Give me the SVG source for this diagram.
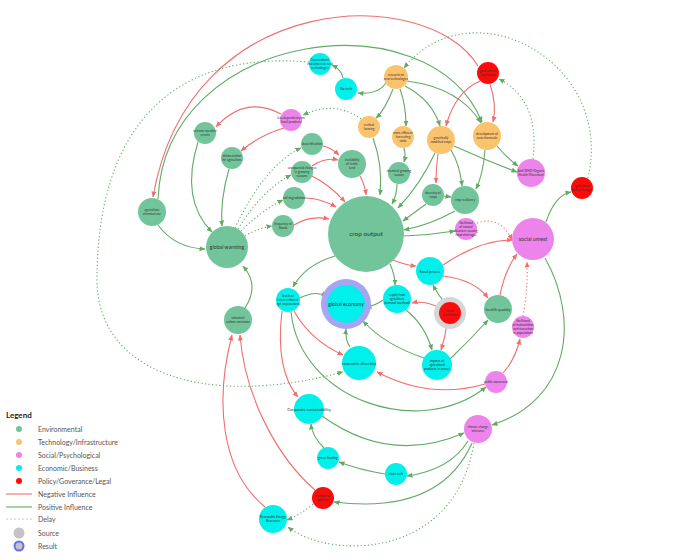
<svg xmlns="http://www.w3.org/2000/svg" width="700" height="560" viewBox="0 0 700 560">
<style>
.env{fill:#72c59b}.tech{fill:#fcc36f}.soc{fill:#ec84ec}.eco{fill:#00f0ec}.pol{fill:#ff0a0a}
text{font-family:Lato,"Open Sans","Liberation Sans",sans-serif;fill:#333;text-anchor:middle}
.t{font-size:3.2px}.m{font-size:4.2px}.b{font-size:5.2px}
.lg{font-size:7px;fill:#555;text-anchor:start}
.neg{fill:none;stroke:#ef6f6f;stroke-width:1.1}
.pos{fill:none;stroke:#62aa66;stroke-width:1.1}
.dot{stroke-dasharray:1.2 2.4}
</style>
<defs>
<marker id="ar" markerUnits="userSpaceOnUse" markerWidth="6" markerHeight="6" refX="5.5" refY="3" orient="auto"><path d="M0,0.5 L6,3 L0,5.5 z" fill="#ef6f6f"/></marker>
<marker id="ag" markerUnits="userSpaceOnUse" markerWidth="6" markerHeight="6" refX="5.5" refY="3" orient="auto"><path d="M0,0.5 L6,3 L0,5.5 z" fill="#62aa66"/></marker>
</defs>
<rect width="700" height="560" fill="#ffffff"/>
<g id="connectors">
<path class="neg" marker-end="url(#ar)" d="M478,66 C430,-15 190,-15 153,197"/>
<path class="pos" marker-end="url(#ag)" d="M158,199 C165,30 430,-5 482,122"/>
<path class="pos dot" marker-end="url(#ag)" d="M533,159 Q540,100 499,79"/>
<path class="pos dot" marker-end="url(#ag)" d="M588,178 C615,60 470,-15 404,68"/>
<path class="pos dot" marker-end="url(#ag)" d="M309,62 C170,50 97,130 97,280 C97,370 200,410 343,372"/>
<path class="pos dot" marker-end="url(#ag)" d="M474,443 C455,560 330,560 288,527"/>
<path class="pos dot" marker-end="url(#ag)" d="M313,504 Q300,515 287,520"/>
<path class="pos" marker-end="url(#ag)" d="M545,258 C580,320 570,400 492,425"/>
<path class="pos" marker-end="url(#ag)" d="M546,222 Q555,195 571,192"/>
<path class="pos" marker-end="url(#ag)" d="M468,441 Q450,470 407,476"/>
<path class="pos" marker-end="url(#ag)" d="M472,443 Q440,515 334,502"/>
<path class="pos" marker-end="url(#ag)" d="M385,474 Q360,470 339,462"/>
<path class="pos" marker-end="url(#ag)" d="M324,448 Q312,436 311,424"/>
<path class="pos" marker-end="url(#ag)" d="M322,416 Q390,465 464,433"/>
<path class="neg" marker-end="url(#ar)" d="M265,507 C220,470 215,400 232,335"/>
<path class="neg" marker-end="url(#ar)" d="M315,490 C280,460 245,400 240,335"/>
<path class="pos" marker-end="url(#ag)" d="M300,298 Q315,290 327,296"/>
<path class="pos" marker-end="url(#ag)" d="M383,300 Q375,306 366,307"/>
<path class="pos" marker-end="url(#ag)" d="M350,347 Q345,340 346,329"/>
<path class="pos" marker-end="url(#ag)" d="M424,358 Q385,345 363,321"/>
<path class="neg" marker-end="url(#ar)" d="M294,311 Q310,340 343,355"/>
<path class="neg" marker-end="url(#ar)" d="M282,311 Q275,370 298,397"/>
<path class="pos" marker-end="url(#ag)" d="M291,312 C300,400 420,440 486,387"/>
<path class="neg" marker-end="url(#ar)" d="M440,308 Q425,300 412,303"/>
<path class="neg" marker-end="url(#ar)" d="M447,324 Q445,338 441,350"/>
<path class="pos" marker-end="url(#ag)" d="M445,303 Q438,295 433,285"/>
<path class="pos" marker-end="url(#ag)" d="M450,359 Q470,340 488,320"/>
<path class="pos" marker-end="url(#ag)" d="M406,310 Q425,325 432,350"/>
<path class="neg" marker-end="url(#ar)" d="M485,384 Q430,400 377,372"/>
<path class="neg" marker-end="url(#ar)" d="M503,373 Q515,360 520,339"/>
<path class="neg dot" marker-end="url(#ar)" d="M523,316 Q528,290 527,262"/>
<path class="neg" marker-end="url(#ar)" d="M500,295 Q505,270 517,254"/>
<path class="neg" marker-end="url(#ar)" d="M443,265 Q480,240 512,240"/>
<path class="neg" marker-end="url(#ar)" d="M443,276 Q475,280 488,298"/>
<path class="neg" marker-end="url(#ar)" d="M393,260 Q405,265 416,266"/>
<path class="pos" marker-end="url(#ag)" d="M404,236 Q430,235 455,231"/>
<path class="pos" marker-end="url(#ag)" d="M455,211 Q430,225 404,230"/>
<path class="pos" marker-end="url(#ag)" d="M426,204 Q415,212 403,221"/>
<path class="pos" marker-end="url(#ag)" d="M444,196 L451,197"/>
<path class="neg dot" marker-end="url(#ar)" d="M477,223 Q500,215 512,240"/>
<path class="pos" marker-end="url(#ag)" d="M390,264 Q395,275 395,285"/>
<path class="pos" marker-end="url(#ag)" d="M335,256 Q305,265 293,287"/>
<path class="pos dot" marker-end="url(#ag)" d="M235,228 Q265,165 301,148"/>
<path class="pos dot" marker-end="url(#ag)" d="M238,229 Q262,190 291,175"/>
<path class="pos dot" marker-end="url(#ag)" d="M241,231 Q262,210 283,200"/>
<path class="pos dot" marker-end="url(#ag)" d="M245,236 Q258,228 272,226"/>
<path class="pos dot" marker-end="url(#ag)" d="M361,119 Q335,100 303,115"/>
<path class="neg" marker-end="url(#ar)" d="M281,114 Q245,95 216,127"/>
<path class="neg" marker-end="url(#ar)" d="M284,128 Q260,135 241,151"/>
<path class="pos" marker-end="url(#ag)" d="M198,142 Q180,200 212,232"/>
<path class="pos" marker-end="url(#ag)" d="M229,169 Q220,200 222,226"/>
<path class="pos" marker-end="url(#ag)" d="M158,225 Q175,248 205,249"/>
<path class="pos" marker-end="url(#ag)" d="M245,308 Q260,285 243,266"/>
<path class="neg" marker-end="url(#ar)" d="M323,146 Q330,147 339,155"/>
<path class="neg" marker-end="url(#ar)" d="M312,166 Q325,157 338,160"/>
<path class="neg" marker-end="url(#ar)" d="M312,176 Q330,185 345,202"/>
<path class="neg" marker-end="url(#ar)" d="M305,198 Q320,198 336,207"/>
<path class="neg" marker-end="url(#ar)" d="M294,225 Q310,215 329,219"/>
<path class="neg" marker-end="url(#ar)" d="M360,176 Q365,185 366,195"/>
<path class="pos" marker-end="url(#ag)" d="M373,138 Q383,165 380,195"/>
<path class="pos" marker-end="url(#ag)" d="M404,148 Q406,155 404,162"/>
<path class="pos" marker-end="url(#ag)" d="M397,184 Q397,195 392,204"/>
<path class="pos" marker-end="url(#ag)" d="M435,153 Q420,185 398,208"/>
<path class="neg" marker-end="url(#ar)" d="M438,154 Q436,170 436,183"/>
<path class="pos" marker-end="url(#ag)" d="M451,150 Q460,165 462,186"/>
<path class="pos" marker-end="url(#ag)" d="M454,146 Q485,160 517,172"/>
<path class="pos" marker-end="url(#ag)" d="M485,150 Q483,175 476,189"/>
<path class="pos" marker-end="url(#ag)" d="M497,146 Q507,158 518,166"/>
<path class="neg" marker-end="url(#ar)" d="M480,81 Q455,92 446,126"/>
<path class="neg" marker-end="url(#ar)" d="M490,84 Q497,105 493,122"/>
<path class="pos" marker-end="url(#ag)" d="M386,83 Q378,95 358,93"/>
<path class="pos" marker-end="url(#ag)" d="M343,78 Q342,70 332,65"/>
<path class="pos" marker-end="url(#ag)" d="M393,89 Q385,110 376,118"/>
<path class="pos" marker-end="url(#ag)" d="M400,89 Q406,105 406,126"/>
<path class="pos" marker-end="url(#ag)" d="M405,86 Q432,100 440,126"/>
<path class="pos" marker-end="url(#ag)" d="M407,81 Q460,88 481,123"/>
</g>
<g id="n_crop_output"><circle class="env" cx="366" cy="234" r="38"/><text x="366" y="236" style="font-size:6.5px">crop output</text></g>
<g id="n_global_warming"><circle class="env" cx="227" cy="247" r="21"/><text class="b" x="227" y="249">global warming</text></g>
<g id="n_ag_chem"><circle class="env" cx="152" cy="212" r="14"/><text class="t" x="152" y="211">agriculture</text><text class="t" x="152" y="215">chemical use</text></g>
<g id="n_industrial"><circle class="env" cx="238" cy="320" r="14"/><text class="t" x="238" y="319">industrial</text><text class="t" x="238" y="323">carbon emissions</text></g>
<g id="n_extreme"><circle class="env" cx="205" cy="133" r="11"/><text class="t" x="205" y="132">extreme weather</text><text class="t" x="205" y="136">events</text></g>
<g id="n_deforest"><circle class="env" cx="232" cy="158" r="11"/><text class="t" x="232" y="157">deforestation</text><text class="t" x="232" y="161">for agriculture</text></g>
<g id="n_fossil"><circle class="soc" cx="291" cy="120" r="11"/><text class="t" x="291" y="119">less dependency on</text><text class="t" x="291" y="123">fossil products</text></g>
<g id="n_desert"><circle class="env" cx="312" cy="144" r="11"/><text class="t" x="312" y="145">desertification</text></g>
<g id="n_fertile"><circle class="env" cx="352" cy="164" r="14"/><text class="t" x="352" y="161">availability</text><text class="t" x="352" y="165">of fertile</text><text class="t" x="352" y="169">land</text></g>
<g id="n_seasons"><circle class="env" cx="302" cy="172" r="11"/><text class="t" x="302" y="169">unexpected changes</text><text class="t" x="302" y="173">in growing</text><text class="t" x="302" y="177">seasons</text></g>
<g id="n_soil"><circle class="env" cx="294" cy="198" r="11"/><text class="t" x="294" y="199">soil degradation</text></g>
<g id="n_floods"><circle class="env" cx="283" cy="226" r="11"/><text class="t" x="283" y="225">frequency of</text><text class="t" x="283" y="229">floods</text></g>
<g id="n_corp_invest"><circle class="eco" cx="320" cy="64" r="11"/><text class="t" x="320" y="61">Corporations'</text><text class="t" x="320" y="65">investment in new</text><text class="t" x="320" y="69">technologies</text></g>
<g id="n_biotech"><circle class="eco" cx="346" cy="89" r="11"/><text class="t" x="346" y="90">Bio-tech</text></g>
<g id="n_research"><circle class="tech" cx="396" cy="77" r="12"/><text class="t" x="396" y="76">research on</text><text class="t" x="396" y="80">new technologies</text></g>
<g id="n_vertical"><circle class="tech" cx="369" cy="127" r="11"/><text class="t" x="369" y="126">vertical</text><text class="t" x="369" y="130">farming</text></g>
<g id="n_efficient"><circle class="tech" cx="403" cy="137" r="11"/><text class="t" x="403" y="134">more efficient</text><text class="t" x="403" y="138">harvesting</text><text class="t" x="403" y="142">tools</text></g>
<g id="n_chemgrow"><circle class="env" cx="399" cy="173" r="11"/><text class="t" x="399" y="172">chemical growing</text><text class="t" x="399" y="176">season</text></g>
<g id="n_gmo"><circle class="tech" cx="441" cy="140" r="14"/><text class="t" x="441" y="139">genetically</text><text class="t" x="441" y="143">modified crops</text></g>
<g id="n_development"><circle class="tech" cx="487" cy="136" r="14"/><text class="t" x="487" y="135">development of</text><text class="t" x="487" y="139">new chemicals</text></g>
<g id="n_govt"><circle class="pol" cx="488" cy="73" r="11"/><text class="t" x="488" y="72">government</text><text class="t" x="488" y="76">regulations</text></g>
<g id="n_antigmo"><circle class="soc" cx="531" cy="173" r="14"/><text class="t" x="531" y="172">Anti GMO/Organic</text><text class="t" x="531" y="176">Health Movement</text></g>
<g id="n_policy"><circle class="pol" cx="582" cy="188" r="11"/><text class="t" x="582" y="187">agricultural</text><text class="t" x="582" y="191">policy changes</text></g>
<g id="n_diversity_crops"><circle class="env" cx="433" cy="195" r="11"/><text class="t" x="433" y="194">diversity of</text><text class="t" x="433" y="198">crops</text></g>
<g id="n_resiliency"><circle class="env" cx="465" cy="200" r="14"/><text class="t" x="465" y="201">crop resiliency</text></g>
<g id="n_likelihood"><circle class="soc" cx="466" cy="229" r="11"/><text class="t" x="466" y="224">likelihood</text><text class="t" x="466" y="228">of natural</text><text class="t" x="466" y="232">disasters causing</text><text class="t" x="466" y="236">food shortages</text></g>
<g id="n_social_unrest"><circle class="soc" cx="533" cy="239" r="21"/><text class="b" x="533" y="241">social unrest</text></g>
<g id="n_food_prices"><circle class="eco" cx="430" cy="271" r="14"/><text class="m" x="430" y="273">food prices</text></g>
<g id="n_supply"><circle class="eco" cx="397" cy="299" r="14"/><text class="t" x="397" y="296">supply from</text><text class="t" x="397" y="300">agriculture</text><text class="t" x="397" y="304">(demand overload)</text></g>
<g id="n_global_economy"><circle cx="346" cy="304" r="25" fill="#a8a3f3"/><circle class="eco" cx="346" cy="304" r="19"/><text class="b" x="346" y="306">global economy</text></g>
<g id="n_intervention"><circle class="eco" cx="288" cy="300" r="12"/><text class="t" x="288" y="297">levels of</text><text class="t" x="288" y="301">intervention of</text><text class="t" x="288" y="305">agri corporations</text></g>
<g id="n_trade"><circle cx="450" cy="313" r="16" fill="#d6d6d6"/><circle class="pol" cx="450" cy="313" r="11"/><text class="t" x="450" y="312">trade</text><text class="t" x="450" y="316">restrictions</text></g>
<g id="n_health"><circle class="env" cx="498" cy="309" r="14"/><text class="m" x="498" y="311">health quality</text></g>
<g id="n_malnutrition"><circle class="soc" cx="523" cy="327" r="11"/><text class="t" x="523" y="322">likelihood</text><text class="t" x="523" y="326">of malnutrition</text><text class="t" x="523" y="330">and starvation</text><text class="t" x="523" y="334">in populations</text></g>
<g id="n_economic_diversity"><circle class="eco" cx="359" cy="363" r="17"/><text class="m" x="359" y="365">economic diversity</text></g>
<g id="n_imports"><circle class="eco" cx="437" cy="365" r="15"/><text class="t" x="437" y="362">imports of</text><text class="t" x="437" y="366">agricultural</text><text class="t" x="437" y="370">products (revenue)</text></g>
<g id="n_awareness"><circle class="soc" cx="496" cy="382" r="11"/><text class="t" x="496" y="383">public awareness</text></g>
<g id="n_corp_sust"><circle class="eco" cx="309" cy="409" r="15"/><text class="m" x="309" y="411">Corporate sustainability</text></g>
<g id="n_climate"><circle class="soc" cx="478" cy="429" r="14"/><text class="t" x="478" y="428">climate change</text><text class="t" x="478" y="432">tolerance</text></g>
<g id="n_green_funding"><circle class="eco" cx="328" cy="458" r="11"/><text class="t" x="328" y="459">green funding</text></g>
<g id="n_clean_tech"><circle class="eco" cx="396" cy="474" r="11"/><text class="t" x="396" y="475">clean tech</text></g>
<g id="n_carbon_tax"><circle class="pol" cx="323" cy="498" r="11"/><text class="t" x="323" y="497">carbon tax</text><text class="t" x="323" y="501">policies</text></g>
<g id="n_renewable"><circle class="eco" cx="273" cy="519" r="14"/><text class="t" x="273" y="518">Renewable Energy</text><text class="t" x="273" y="522">Resources</text></g>
<g id="legend">
<text x="6" y="418" style="font-size:8px;font-weight:bold;fill:#222;text-anchor:start">Legend</text>
<circle class="env" cx="19" cy="429" r="3"/><text class="lg" x="38" y="431.5">Environmental</text>
<circle class="tech" cx="19" cy="442" r="3"/><text class="lg" x="38" y="444.5">Technology/Infrastructure</text>
<circle class="soc" cx="19" cy="455" r="3"/><text class="lg" x="38" y="457.5">Social/Psychological</text>
<circle class="eco" cx="19" cy="468" r="3"/><text class="lg" x="38" y="470.5">Economic/Business</text>
<circle class="pol" cx="19" cy="481" r="3"/><text class="lg" x="38" y="483.5">Policy/Goverance/Legal</text>
<line x1="6" y1="494" x2="32" y2="494" stroke="#ef6f6f" stroke-width="1.1"/><text class="lg" x="38" y="496.5">Negative Influence</text>
<line x1="6" y1="507" x2="32" y2="507" stroke="#62aa66" stroke-width="1.1"/><text class="lg" x="38" y="509.5">Positive Influence</text>
<line x1="6" y1="519" x2="32" y2="519" stroke="#cccccc" stroke-width="1" stroke-dasharray="2 2"/><text class="lg" x="38" y="521.5">Delay</text>
<circle cx="19" cy="533" r="5.5" fill="#c4c4c4"/><text class="lg" x="38" y="535.5">Source</text>
<circle cx="19" cy="546" r="4.5" fill="#c4c4c4" stroke="#6a6af0" stroke-width="2"/><text class="lg" x="38" y="548.5">Result</text>
</g>
</svg>
